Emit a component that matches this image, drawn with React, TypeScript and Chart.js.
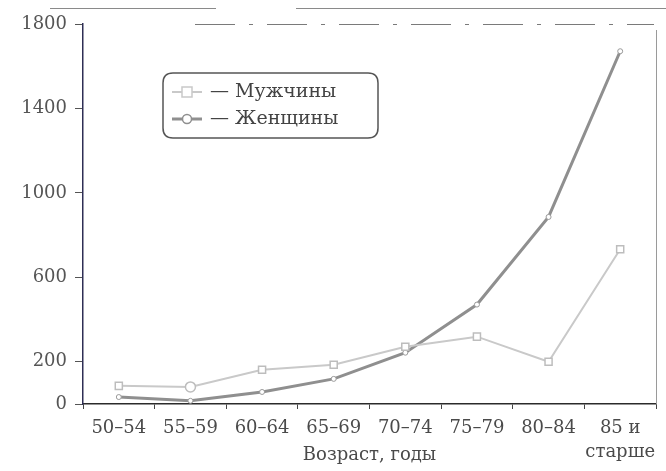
import React, { useEffect, useRef } from "react";
import { Chart, registerables } from "chart.js";

Chart.register(...registerables);

const categories: (string | string[])[] = [
  "50–54",
  "55–59",
  "60–64",
  "65–69",
  "70–74",
  "75–79",
  "80–84",
  ["85 и", "старше"],
];
const maleValues = [86, 81, 162, 186, 271, 319, 200, 733];
const femaleValues = [33, 15, 57, 119, 243, 471, 886, 1671];
const yTickValues = [0, 200, 600, 1000, 1400, 1800];
const seriesNames = ["Мужчины", "Женщины"];
const xTitle = "Возраст, годы";

const FONT = "'DejaVu Serif', 'Liberation Serif', serif";
const MALE_COLOR = "#c9c9c9";
const FEMALE_COLOR = "#8f8f8f";

const framePlugin = {
  id: "frameAndLegend",
  afterDraw(chart: any) {
    const { ctx, chartArea } = chart;
    const { left, right, top, bottom } = chartArea;
    ctx.save();
    // right border
    ctx.strokeStyle = "#9a9a9a";
    ctx.lineWidth = 1;
    ctx.beginPath();
    ctx.moveTo(right + 0.5, top + 6);
    ctx.lineTo(right + 0.5, bottom);
    ctx.stroke();
    // top dashed border
    ctx.setLineDash([40, 14, 4, 14]);
    ctx.strokeStyle = "#7a7a7a";
    ctx.beginPath();
    ctx.moveTo(left + 112, top + 0.5);
    ctx.lineTo(right - 2, top + 0.5);
    ctx.stroke();
    ctx.setLineDash([]);
    // scanned page line at very top
    ctx.strokeStyle = "#8a8a8a";
    ctx.beginPath();
    ctx.moveTo(50, 8.5);
    ctx.lineTo(216, 8.5);
    ctx.moveTo(296, 8.5);
    ctx.lineTo(666, 8.5);
    ctx.stroke();

    // legend box
    const bx = 163, by = 73, bw = 215, bh = 65, r = 10;
    ctx.strokeStyle = "#555";
    ctx.lineWidth = 1.5;
    ctx.beginPath();
    ctx.moveTo(bx + r, by);
    ctx.lineTo(bx + bw - r, by);
    ctx.quadraticCurveTo(bx + bw, by, bx + bw, by + r);
    ctx.lineTo(bx + bw, by + bh - r);
    ctx.quadraticCurveTo(bx + bw, by + bh, bx + bw - r, by + bh);
    ctx.lineTo(bx + r, by + bh);
    ctx.quadraticCurveTo(bx, by + bh, bx, by + bh - r);
    ctx.lineTo(bx, by + r);
    ctx.quadraticCurveTo(bx, by, bx + r, by);
    ctx.stroke();

    const rows = [
      { y: 92, color: MALE_COLOR, width: 2, marker: "rect" },
      { y: 119, color: FEMALE_COLOR, width: 3, marker: "circle" },
    ];
    rows.forEach((row, i) => {
      ctx.strokeStyle = row.color;
      ctx.lineWidth = row.width;
      ctx.beginPath();
      ctx.moveTo(172, row.y);
      ctx.lineTo(202, row.y);
      ctx.stroke();
      ctx.fillStyle = "#fff";
      ctx.lineWidth = 1.5;
      ctx.beginPath();
      if (row.marker === "rect") {
        ctx.rect(182, row.y - 5, 10, 10);
      } else {
        ctx.arc(187, row.y, 4.5, 0, Math.PI * 2);
      }
      ctx.fill();
      ctx.stroke();
      ctx.fillStyle = "#444";
      ctx.font = `19px ${FONT}`;
      ctx.textBaseline = "middle";
      ctx.textAlign = "left";
      ctx.fillText("— " + seriesNames[i], 210, row.y);
    });
    ctx.restore();
  },
};

export default function App() {
  const canvasRef = useRef<HTMLCanvasElement | null>(null);

  useEffect(() => {
    if (!canvasRef.current) return;
    const chart = new Chart(canvasRef.current, {
      type: "line",
      data: {
        labels: categories,
        datasets: [
          {
            label: seriesNames[0],
            data: maleValues,
            borderColor: MALE_COLOR,
            borderWidth: 2,
            pointStyle: ["rect", "circle", "rect", "rect", "rect", "rect", "rect", "rect"],
            pointRadius: 5,
            pointBorderWidth: 1.5,
            pointBorderColor: "#bdbdbd",
            pointBackgroundColor: "#ffffff",
            tension: 0,
          },
          {
            label: seriesNames[1],
            data: femaleValues,
            borderColor: FEMALE_COLOR,
            borderWidth: 3,
            pointStyle: "circle",
            pointRadius: 2.5,
            pointBorderWidth: 1,
            pointBorderColor: "#9a9a9a",
            pointBackgroundColor: "#ffffff",
            tension: 0,
          },
        ],
      },
      options: {
        animation: false,
        responsive: false,
        devicePixelRatio: 1,
        layout: { padding: { left: 0, right: 10, top: 24, bottom: 0 } },
        plugins: {
          legend: { display: false },
          tooltip: { enabled: false },
        },
        scales: {
          x: {
            type: "category",
            offset: true,
            grid: {
              display: true,
              offset: true,
              drawOnChartArea: false,
              drawTicks: true,
              tickLength: 5,
              color: "#444",
            },
            border: { display: true, color: "#2b2b2b", width: 1.5 },
            ticks: {
              color: "#4a4a4a",
              font: { family: FONT, size: 18, lineHeight: 1.35 },
              padding: 7,
              maxRotation: 0,
              autoSkip: false,
            },
            title: {
              display: true,
              text: xTitle,
              color: "#4a4a4a",
              font: { family: FONT, size: 18, lineHeight: 1.2 },
              padding: { top: 0, bottom: 5 },
            },
            afterFit: (scale: any) => {
              scale.height = 67;
            },
          },
          y: {
            type: "linear",
            min: 0,
            max: 1800,
            afterBuildTicks: (scale: any) => {
              scale.ticks = yTickValues.map((v) => ({ value: v }));
            },
            grid: {
              display: true,
              drawOnChartArea: false,
              drawTicks: true,
              tickLength: 8,
              color: "#555",
            },
            border: { display: true, color: "#2e2e55", width: 1.5 },
            ticks: {
              color: "#555",
              font: { family: FONT, size: 18 },
              padding: 8,
              callback: (value: any) => String(value),
            },
            afterFit: (scale: any) => {
              scale.width = 83;
            },
          },
        },
      },
      plugins: [framePlugin],
    });
    return () => chart.destroy();
  }, []);

  return (
    <div style={{ position: "absolute", left: 0, top: 0, width: 666, height: 471, background: "#fff" }}>
      <canvas ref={canvasRef} width={666} height={471} style={{ display: "block", width: 666, height: 471 }} />
    </div>
  );
}
